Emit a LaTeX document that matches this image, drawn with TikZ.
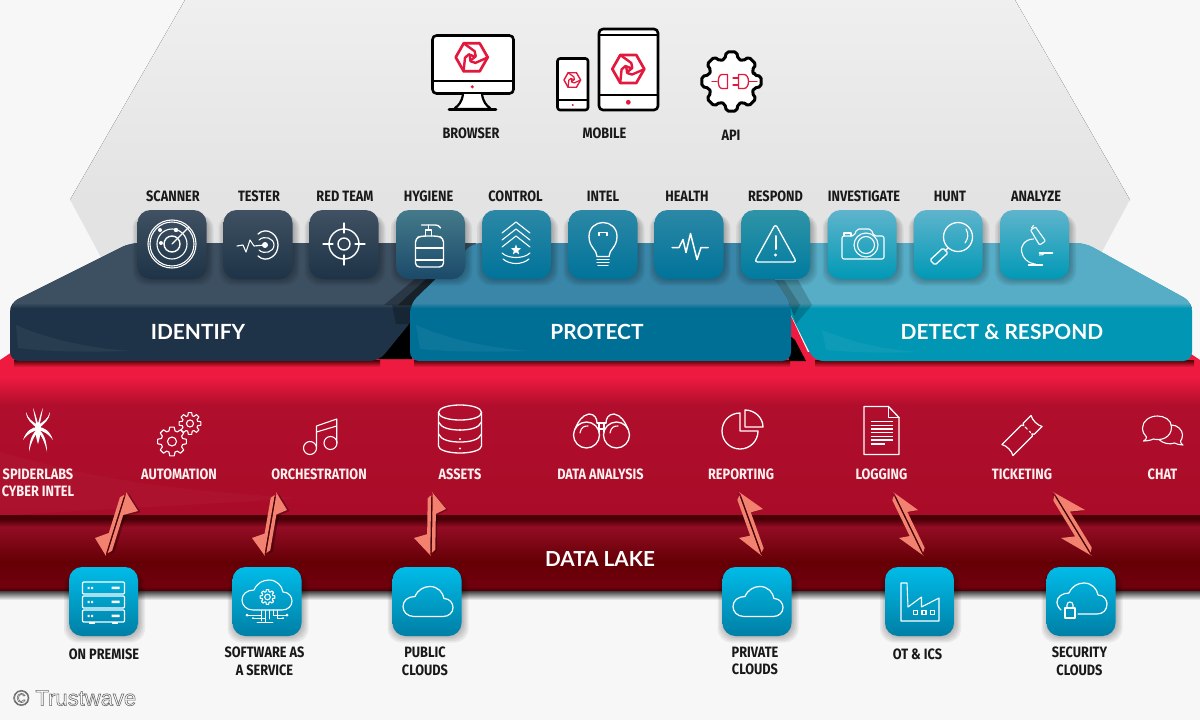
\documentclass[tikz,border=0pt]{standalone}
\usepackage{fontspec}
\usetikzlibrary{calc,shapes.geometric}
\setmainfont{Liberation Sans}
\newfontfamily\labfont[FakeStretch=0.85]{Fira Sans}
\newfontfamily\secfont{Lato}
\definecolor{bgc}{HTML}{F7F7F7}
\definecolor{logored}{HTML}{E3183D}
\definecolor{salmon}{HTML}{F2826F}
\definecolor{hexa}{HTML}{EFEFEF}
\definecolor{hexb}{HTML}{E3E3E3}
\definecolor{redtop}{HTML}{EE1A40}
\definecolor{redmid}{HTML}{B00E2C}
\definecolor{redlow}{HTML}{A90C28}
\definecolor{lakea}{HTML}{930C24}
\definecolor{lakeb}{HTML}{640005}
\definecolor{lakec}{HTML}{72000E}
\definecolor{lakedark}{HTML}{4A0006}
\definecolor{idtop}{HTML}{3D5062}
\definecolor{idfront}{HTML}{1E3347}
\definecolor{prtop}{HTML}{3A86A8}
\definecolor{prfront}{HTML}{006F96}
\definecolor{detop}{HTML}{57ADC6}
\definecolor{defront}{HTML}{0096B4}
\definecolor{taid}{HTML}{3F5162}
\definecolor{tbid}{HTML}{1E3347}
\definecolor{tahy}{HTML}{447A8A}
\definecolor{tbhy}{HTML}{1B4A6A}
\definecolor{tapr}{HTML}{2C88A6}
\definecolor{tbpr}{HTML}{00739A}
\definecolor{tare}{HTML}{2F94A6}
\definecolor{tbre}{HTML}{007BA0}
\definecolor{tade}{HTML}{5FB4CC}
\definecolor{tbde}{HTML}{0099B6}
\definecolor{tasr}{HTML}{00BCE8}
\definecolor{tmsr}{HTML}{009EC4}
\definecolor{tbsr}{HTML}{007FA6}
\tikzset{
  ic/.style={draw=white,line width=1.1pt,line join=round,line cap=round},
  labk/.style={text=black!90,font=\labfont\bfseries\fontsize{15}{17}\selectfont,align=center,inner sep=0pt},
  labw/.style={text=white!94!red,font=\labfont\bfseries\fontsize{15}{17}\selectfont,align=center,inner sep=0pt},
  sect/.style={text=white,font=\secfont\bfseries\fontsize{20.9}{24}\selectfont,inner sep=0pt},
  tilebox/.style={rounded corners=13pt,minimum size=69pt,inner sep=0pt},
  blk/.style={draw=black,line width=2.6pt,line join=round,fill=white},
  redl/.style={draw=logored,line width=1.3pt,line cap=round,line join=round},
}
% tile: name, x, y, top colour, mid colour, bottom colour
\newcommand{\tilenode}[6]{%
  \foreach \g in {0,1.5,...,6}{
    \fill[black,opacity=0.06,rounded corners=14pt] (#2-34.5-\g+1,#3-30) rectangle (#2+34.5+\g+1,#3+35+\g);
  }
  \node[tilebox,top color=#4,middle color=#5,bottom color=#6] (#1) at (#2,#3) {};
}
\newcommand{\trustlogo}[3]{%
  \begin{scope}[shift={(#1,#2)},scale=#3]
    \draw[redl,line width=#3*2.7pt] (-8,-14) -- (8,-14) -- (16,0) -- (8,14) -- (-8,14) -- (-16,0) -- cycle;
    \foreach \r in {0,120,240}{
      \draw[redl,line width=#3*2.4pt,rotate=\r] (-8,-14) -- (3,-6) -- (4,-1) -- (-1,3);
    }
  \end{scope}
}
\newcommand{\gearshape}[7]{% x y rout rin style halfangle flank
  \draw[#5,shift={(#1,#2)}] ({-#6-#7}:#4)
    \foreach \a in {0,45,...,315}{ -- ({\a-#6-#7}:#4) -- ({\a-#6}:#3) -- ({\a+#6}:#3) -- ({\a+#6+#7}:#4) } -- cycle;
}
\newcommand{\cloudshape}{(-14,15) .. controls (-21,15) and (-25,10) .. (-25,5) .. controls (-25,-1) and (-20,-5) .. (-13,-5) .. controls (-10,-12) and (-4,-15) .. (2,-15) .. controls (10,-15) and (15,-9) .. (16,-3) .. controls (22,-3) and (25,2) .. (25,6) .. controls (25,11) and (21,15) .. (15,15) -- cycle}
\newcommand{\halfarrow}[3]{%
  (#1) -- (#3) -- ($(#1)!.34!(#2)!4.2pt!90:(#2)$) -- ($(#1)!.90!(#2)!4.2pt!90:(#2)$) -- ($(#1)!.95!(#2)!.8pt!90:(#2)$) -- ($(#1)!.03!(#2)!.8pt!90:(#2)$) -- cycle
}
\newcommand{\arrowpair}[5]{% top tip, top barb, bottom tip, bottom barb, shadow shift
  \fill[black,opacity=.3,transform canvas={xshift=#5pt,yshift=-1pt}] \halfarrow{#1}{#3}{#2};
  \draw[black!75!red,line width=1.5pt] ($(#1)!.08!(#3)$) -- ($(#1)!.92!(#3)$);
  \fill[salmon] \halfarrow{#1}{#3}{#2};
  \fill[salmon] \halfarrow{#3}{#1}{#4};
}
% block: silhouette path, top colour, front colour
\newcommand{\blockshape}[3]{%
  \fill[#3,rounded corners=9pt] #1;
  \begin{scope}
    \clip[rounded corners=9pt] #1;
    \fill[#2] (0,230) rectangle (1200,303);
    \fill[top color=#2,bottom color=#3] (0,303) rectangle (1200,308);
  \end{scope}
}
\begin{document}
\begin{tikzpicture}[x=1pt,y=-1pt]
\useasboundingbox (0,0) rectangle (1200,720);
\fill[bgc] (0,0) rectangle (1200,720);
% grey hexagon
\fill[top color=hexa,bottom color=hexb] (185,0) -- (1015,0) -- (1130,200) -- (70,200) -- cycle;
\fill[hexb] (70,199.5) -- (1130,199.5) -- (1060,330) -- (140,330) -- cycle;
% red slab
\fill[redtop] (0,360) -- (12,352) -- (1188,352) -- (1200,360) -- (1200,378) -- (0,378) -- cycle;
\fill[top color=redtop,bottom color=redmid] (0,377) rectangle (1200,405);
\fill[top color=redmid,bottom color=redlow] (0,405) rectangle (1200,516);
% faint swoosh
\fill[white,opacity=.025] (0,452) .. controls (100,480) and (170,490) .. (300,498) .. controls (200,505) and (80,510) .. (0,516) -- cycle;
% data lake
\fill[lakedark] (0,515) rectangle (1200,521);
\fill[top color=lakedark,bottom color=lakea] (0,519) rectangle (1200,527);
\fill[top color=lakea,bottom color=lakeb] (0,527) rectangle (1200,562);
\fill[top color=lakeb,bottom color=lakec] (0,562) rectangle (1200,586);
\fill[top color=lakec,bottom color=lakedark] (0,586) rectangle (1200,591);
\fill[top color=black!75,bottom color=bgc] (0,591) rectangle (1200,600);
% shadows under blocks
\fill[top color=black!70!red,bottom color=redtop] (14,360) rectangle (380,367);
\fill[top color=black!70!red,bottom color=redtop] (414,360) rectangle (790,367);
\fill[top color=black!70!red,bottom color=redtop] (815,360) rectangle (1194,367);
% IDENTIFY block
\fill[black] (378,359) -- (412,316) -- (412,359) -- cycle;
\blockshape{(10,361) -- (10,303) -- (130,243) -- (482,243) -- (414,308) -- (414,318) -- (379,361) -- cycle}{idtop}{idfront}
\fill[white,opacity=.05] (16,325) .. controls (50,340) and (90,348) .. (130,351) .. controls (90,352) and (50,352) .. (18,348) -- cycle;
\fill[black,opacity=.3] (384,305) -- (428,268) -- (450,268) -- (412,305) -- cycle;
\fill[black,opacity=.4] (398,305) -- (438,268) -- (450,268) -- (412,305) -- cycle;
\fill[black,opacity=.25] (392,305) -- (412,305) -- (412,324) -- (396,324) -- cycle;
% DETECT block
\fill[redtop] (789,312) -- (812,361) -- (789,361) -- cycle;
\fill[black] (795,340) -- (806,361) -- (789,361) -- (789,335) -- cycle;
\blockshape{(755,243) -- (1085,243) -- (1192,302) -- (1192,361) -- (814,361) -- cycle}{detop}{defront}
\fill[white,opacity=.05] (822,330) .. controls (860,345) and (890,350) .. (920,352) .. controls (890,353) and (860,353) .. (826,350) -- cycle;
\fill[black,opacity=.18] (772,280) -- (798,280) -- (812,305) -- (796,324) -- (790,305) -- cycle;
\fill[black,opacity=.18] (772,280) -- (784,280) -- (800,305) -- (794,316) -- (790,305) -- cycle;
% PROTECT block
\blockshape{(410,361) -- (410,304) -- (473,243) -- (750,243) -- (791,304) -- (791,361) -- cycle}{prtop}{prfront}
\fill[white,opacity=.05] (416,325) .. controls (450,340) and (490,348) .. (530,351) .. controls (490,352) and (450,352) .. (420,349) -- cycle;
\node[sect] (identify) at (198,332) {IDENTIFY};
\node[sect] (protect) at (597,332) {PROTECT};
\node[sect] (detect) at (1002,332) {DETECT \& RESPOND};

% upper tiles
\tilenode{t1}{172}{244.5}{taid}{tbid}{tbid}
\tilenode{t2}{258}{244.5}{taid}{tbid}{tbid}
\tilenode{t3}{344}{244.5}{taid}{tbid}{tbid}
\tilenode{t4}{430.5}{244.5}{tahy}{tbhy}{tbhy}
\tilenode{t5}{516.5}{244.5}{tapr}{tbpr}{tbpr}
\tilenode{t6}{603}{244.5}{tapr}{tbpr}{tbpr}
\tilenode{t7}{689}{244.5}{tapr}{tbpr}{tbpr}
\tilenode{t8}{775.5}{244.5}{tare}{tbre}{tbre}
\tilenode{t9}{862}{244.5}{tade}{tbde}{tbde}
\tilenode{t10}{948}{244.5}{tade}{tbde}{tbde}
\tilenode{t11}{1034.5}{244.5}{tade}{tbde}{tbde}
% upper labels
\node[labk] (l1) at (173,196.5) {SCANNER};
\node[labk] (l2) at (259,196.5) {TESTER};
\node[labk] (l3) at (345,196.5) {RED TEAM};
\node[labk] (l4) at (428.5,196.5) {HYGIENE};
\node[labk] (l5) at (515.5,196.5) {CONTROL};
\node[labk] (l6) at (603,196.5) {INTEL};
\node[labk] (l7) at (687,196.5) {HEALTH};
\node[labk] (l8) at (775.5,196.5) {RESPOND};
\node[labk] (l9) at (864,196.5) {INVESTIGATE};
\node[labk] (l10) at (950,196.5) {HUNT};
\node[labk] (l11) at (1036,196.5) {ANALYZE};

% scanner
\begin{scope}[shift={(172,244)}]
  \draw[ic] (0,0) circle[radius=24];
  \draw[ic] (0,0) circle[radius=22];
  \draw[ic] (0,0) circle[radius=15];
  \draw[ic,line width=1.4pt] (0,0) circle[radius=8];
  \draw[ic] (0,0) -- (17,-17);
  \fill[white] (-12,-14) circle[radius=2] (4,-14) circle[radius=2.2] (-11,-1) circle[radius=2];
\end{scope}
% tester
\begin{scope}[shift={(258,245)}]
  \draw[ic] (-21,1) -- (-15,0) -- (-12,7) -- (-8,-5) -- (-4,1) -- (7,0);
  \draw[ic,line width=1.3pt] (0,-11) .. controls (4,-15) and (10,-15) .. (14,-12) .. controls (22,-7) and (22,7) .. (14,12) .. controls (10,15) and (4,15) .. (0,11);
  \draw[ic] (1,-5) .. controls (6,-10) and (16,-7) .. (16,0) .. controls (16,7) and (6,10) .. (1,5);
  \fill[white] (7,0) circle[radius=3];
\end{scope}
% red team
\begin{scope}[shift={(344,244)}]
  \draw[ic,line width=1.4pt] (0,0) circle[radius=15];
  \draw[ic,line width=1.4pt] (0,0) circle[radius=6];
  \foreach \a in {0,90,180,270}{\draw[ic] (\a:11) -- (\a:21);}
\end{scope}
% hygiene
\begin{scope}[shift={(430.5,245)}]
  \draw[ic,line width=1.4pt,rounded corners=4pt] (-15,-7) -- (-9,-9) -- (7,-9) -- (13,-7) -- (13,22) -- (-15,22) -- cycle;
  \draw[ic] (-15,3) -- (13,3) (-15,15) -- (13,15);
  \draw[ic] (-5,-9) -- (-5,-15) -- (1,-15) -- (1,-9);
  \draw[ic] (-2,-15) -- (-2,-20);
  \draw[ic,line width=1.4pt] (-9,-20) -- (5,-20) .. controls (7,-20) and (9,-19) .. (10,-17);
\end{scope}
% control
\begin{scope}[shift={(516,245)}]
  \foreach \d in {0,7,14}{\draw[ic] (-14,-12+\d) -- (0,-23+\d) -- (14,-12+\d);}
  \node[star,star points=5,star point ratio=2.4,fill=white,inner sep=0pt,minimum size=11pt] (cstar) at (0,5) {};
  \draw[ic] (-14,8) .. controls (-8,14) and (8,14) .. (14,8);
  \draw[ic] (-13,14) .. controls (-6,20) and (6,20) .. (13,14);
\end{scope}
% intel
\begin{scope}[shift={(603,244.5)}]
  \draw[ic,line width=1.3pt] (-6,12) .. controls (-6,5) and (-14,3) .. (-14,-8) .. controls (-14,-17) and (-7,-22) .. (0,-22) .. controls (7,-22) and (14,-17) .. (14,-8) .. controls (14,3) and (6,5) .. (6,12) -- cycle;
  \draw[ic] (-4,-9) -- (-4,-12) -- (4,-12) -- (4,-9);
  \draw[ic] (-6,15) -- (6,15) (-6,18) -- (6,18) (-5,21) -- (5,21);
\end{scope}
% health
\begin{scope}[shift={(689,244.5)}]
  \draw[ic,line width=1.5pt] (-17,3) -- (-10,3) -- (-6,-5) -- (-3,8) -- (1.5,-11) -- (8,15) -- (12,3) -- (19,3);
\end{scope}
% respond
\begin{scope}[shift={(775.5,245)}]
  \draw[ic,rounded corners=3pt,line width=1.3pt] (0,-21) -- (21,17) -- (-21,17) -- cycle;
  \draw[ic,line width=2pt] (0,-9) -- (0,4);
  \fill[white] (0,10) circle[radius=1.6];
\end{scope}
% investigate
\begin{scope}[shift={(863,245)}]
  \draw[ic,rounded corners=2pt] (-21,-9) -- (-21,14) -- (21,14) -- (21,-9) -- (11,-9) -- (8,-16) -- (-6,-16) -- (-9,-9) -- cycle;
  \draw[ic] (-19,-9) -- (-19,-12) -- (-12,-12) -- (-12,-9);
  \draw[ic] (3,0) circle[radius=12];
  \draw[ic] (3,0) circle[radius=8.5];
\end{scope}
% hunt
\begin{scope}[shift={(948,245)}]
  \draw[ic,line width=1.3pt] (10,-8) circle[radius=14.5];
  \draw[ic] (18,-16) .. controls (21,-11) and (20,-6) .. (17,-2);
  \draw[ic,line width=1.3pt] (0,3) -- (-3,6);
  \draw[ic,rounded corners=1.5pt,line width=1.3pt] (-5,3) -- (0,8) -- (-13,20) -- (-18,15) -- cycle;
\end{scope}
% analyze
\begin{scope}[shift={(1034.5,245)}]
  \draw[ic,rounded corners=1pt] (-4,-15) -- (1,-18) -- (11,-4) -- (5,0) -- cycle;
  \draw[ic] (-3,-17) -- (-1,-19.5);
  \draw[ic] (-1,-6) .. controls (-10,-6) and (-14,2) .. (-13,6) .. controls (-12,13) and (-7,18) .. (0,19);
  \draw[ic,line width=1.6pt] (5,8) -- (18,8);
  \draw[ic] (-6,20) -- (8,20) (1,19) -- (1,20);
  \draw[ic] (10,8) .. controls (9,10) and (7,10) .. (5,10);
\end{scope}

% red section labels and icons
\node[labw] (r0) at (38,482.5) {SPIDERLABS\\[0.4pt]CYBER INTEL};
\node[labw] (r1) at (179,474) {AUTOMATION};
\node[labw] (r2) at (319,474) {ORCHESTRATION};
\node[labw] (r3) at (460,474) {ASSETS};
\node[labw] (r4) at (600.5,474) {DATA ANALYSIS};
\node[labw] (r5) at (741,474) {REPORTING};
\node[labw] (r6) at (881.5,474) {LOGGING};
\node[labw] (r7) at (1022,474) {TICKETING};
\node[labw] (r8) at (1162.5,474) {CHAT};
% spider
\begin{scope}[shift={(38,430)}]
  \fill[white] (0,-8) .. controls (3.5,-6) and (3,5) .. (0,14) .. controls (-3,5) and (-3.5,-6) .. (0,-8) -- cycle;
  \fill[white] (0,-3) circle[radius=3];
  \foreach \s in {-1,1}{
    \fill[white] (0,-6) .. controls (\s*1,-10) and (\s*2,-15) .. (\s*5,-22) .. controls (\s*3.5,-14) and (\s*2.5,-9) .. (\s*1,-3) -- cycle;
    \fill[white] (0,-5) .. controls (\s*5,-8) and (\s*10,-11) .. (\s*12,-18) .. controls (\s*11.5,-10) and (\s*6,-6) .. (\s*1,-2) -- cycle;
    \fill[white] (0,-3) .. controls (\s*6,-3) and (\s*12,1) .. (\s*15,10) .. controls (\s*10,3.5) and (\s*6,1.5) .. (0,0) -- cycle;
    \fill[white] (0,-1) .. controls (\s*5,2) and (\s*9,10) .. (\s*9,22) .. controls (\s*7,12) and (\s*3,5) .. (0,2) -- cycle;
  }
\end{scope}
% gears
\gearshape{172}{441.5}{14.5}{11}{ic}{9}{7}
\draw[ic] (172,441.5) circle[radius=4.5];
\gearshape{190}{423.5}{11}{8}{ic}{9}{7}
\draw[ic] (190,423.5) circle[radius=3.5];
% music
\begin{scope}[shift={(320,437)}]
  \draw[ic] (-10,11) circle[radius=6.5];
  \draw[ic] (10.5,6) circle[radius=6.5];
  \draw[ic] (-3.5,10) -- (-3.5,-11) -- (16.7,-18) -- (16.7,6);
  \draw[ic] (-3.5,-5) -- (16.7,-11);
\end{scope}
% database
\begin{scope}[shift={(460,429)}]
  \draw[ic,line width=1.3pt] (0,-24) .. controls (12,-24) and (21.5,-21) .. (21.5,-16.5) .. controls (21.5,-12) and (12,-9) .. (0,-9) .. controls (-12,-9) and (-21.5,-12) .. (-21.5,-16.5) .. controls (-21.5,-21) and (-12,-24) .. (0,-24) -- cycle;
  \draw[ic,line width=1.3pt] (-21.5,-16.5) -- (-21.5,17) .. controls (-21.5,21) and (-12,24) .. (0,24) .. controls (12,24) and (21.5,21) .. (21.5,17) -- (21.5,-16.5);
  \foreach \d in {-6,6}{
    \draw[ic,line width=1.3pt] (-21.5,\d-1) .. controls (-19,\d+5) and (-10,\d+7) .. (0,\d+7) .. controls (10,\d+7) and (19,\d+5) .. (21.5,\d-1);
  }
  \foreach \d in {1,10,19.5}{\fill[white] (0,\d) circle[radius=1.2];}
\end{scope}
% binoculars
\begin{scope}[shift={(601,430)}]
  \draw[ic,line width=1.3pt] (-14.5,5) circle[radius=13];
  \draw[ic,line width=1.3pt] (15.5,5) circle[radius=13];
  \draw[ic] (-21,3) .. controls (-20,-3) and (-17,-4) .. (-13,-4);
  \draw[ic] (9,3) .. controls (10,-3) and (13,-4) .. (17,-4);
  \draw[ic,line width=1.3pt] (-26,-1) .. controls (-23,-8) and (-19,-15) .. (-12,-16) .. controls (-6,-16) and (-4,-11) .. (-4,-7);
  \draw[ic,line width=1.3pt] (27,-1) .. controls (24,-8) and (20,-15) .. (13,-16) .. controls (7,-16) and (5,-11) .. (5,-7);
  \draw[ic] (-4,-7) -- (5,-7) (-2,-7) -- (-2,2) (3,-7) -- (3,2) (-2,-1) -- (3,-1);
\end{scope}
% pie
\begin{scope}[shift={(740,431)}]
  \draw[ic,line width=1.3pt] (0,-18) .. controls (-10,-18) and (-18,-10) .. (-18,0) .. controls (-18,10) and (-10,18) .. (0,18) .. controls (10,18) and (18,10) .. (18,0) -- (0,0) -- cycle;
  \draw[ic,line width=1.3pt] (5,-21) .. controls (15,-21) and (23,-13) .. (23,-4) -- (5,-4) -- cycle;
\end{scope}
% document
\begin{scope}[shift={(881.5,430.5)}]
  \draw[ic,line width=1.3pt] (-17.5,-24) -- (7,-24) -- (17.5,-13) -- (17.5,24) -- (-17.5,24) -- cycle;
  \draw[ic] (7,-24) -- (7,-13) -- (17.5,-13);
  \foreach \d in {-9,-5.3,-1.6,2.1,5.8,9.5}{\draw[ic,line width=1.3pt,line cap=butt] (-11,\d) -- (11,\d);}
  \draw[ic,line width=1.3pt,line cap=butt] (-11,13.5) -- (3,13.5);
\end{scope}
% ticket
\begin{scope}[shift={(1022,435.5)},rotate=45,scale=.86]
  \draw[ic,line width=1.2pt] (-24,-9) -- (8,-9) .. controls (8,-6) and (11,-6) .. (11,-9) -- (24,-9) .. controls (21,-5) and (21,5) .. (24,9) -- (11,9) .. controls (11,6) and (8,6) .. (8,9) -- (-24,9) .. controls (-21,5) and (-21,-5) .. (-24,-9) -- cycle;
  \draw[ic,dashed] (9.5,-4.5) -- (9.5,4.5);
\end{scope}
% chat
\begin{scope}[shift={(1162.5,431)}]
  \draw[ic] (9,-4) .. controls (9,-11) and (2,-15) .. (-5,-15) .. controls (-13,-15) and (-20,-10) .. (-20,-3) .. controls (-20,1) and (-18,4) .. (-16,6) .. controls (-16,8) and (-17,9) .. (-19,10) .. controls (-15,10) and (-11,9) .. (-9,8) .. controls (-2,10) and (9,7) .. (9,-4) -- cycle;
  \draw[ic] (9,-6) .. controls (15,-6) and (20,-1) .. (20,4) .. controls (20,7) and (19,9) .. (18,10) .. controls (18,12) and (19,13) .. (20.5,14) .. controls (17,14) and (14,13) .. (12,12) .. controls (7,14) and (0,12) .. (-3,9);
\end{scope}

% bottom source tiles
\tilenode{s1}{103.5}{601.5}{tasr}{tmsr}{tbsr}
\tilenode{s2}{267}{601.5}{tasr}{tmsr}{tbsr}
\tilenode{s3}{427}{601.5}{tasr}{tmsr}{tbsr}
\tilenode{s4}{757}{601.5}{tasr}{tmsr}{tbsr}
\tilenode{s5}{919.5}{601.5}{tasr}{tmsr}{tbsr}
\tilenode{s6}{1081}{601.5}{tasr}{tmsr}{tbsr}
\node[labk] (b1) at (104,654) {ON PREMISE};
\node[labk,anchor=north] (b2) at (264.5,647) {SOFTWARE AS\\[0.2pt]A SERVICE};
\node[labk,anchor=north] (b3) at (425,647) {PUBLIC\\[0.2pt]CLOUDS};
\node[labk,anchor=north] (b4) at (755,647) {PRIVATE\\[0.2pt]CLOUDS};
\node[labk] (b5) at (917.5,654) {OT \& ICS};
\node[labk,anchor=north] (b6) at (1079.5,647) {SECURITY\\[0.2pt]CLOUDS};
% server
\begin{scope}[shift={(103.5,602)}]
  \foreach \d in {-20,-6,8}{
    \draw[ic,rounded corners=1pt] (-21,\d) rectangle (21,\d+12);
    \fill[white] (-16,\d+4.8) rectangle (-14,\d+7) (-12.5,\d+4.8) rectangle (-10.5,\d+7) (8,\d+4.5) rectangle (16,\d+7.2);
  }
  \draw[ic] (-14,21) -- (-9,21) (9,21) -- (14,21);
\end{scope}
% saas
\begin{scope}[shift={(267,595)}]
  \draw[ic] \cloudshape;
\end{scope}
\gearshape{267.5}{597}{7.5}{5.5}{ic}{9}{7}
\draw[ic] (267.5,597) circle[radius=2.8];
\begin{scope}[shift={(267,615)},line width=.9pt]
  \draw[ic,line width=.9pt] (-19,0) -- (-6,0) (-6,-5) -- (-6,6) (-14,3) -- (-2,3) (-2,-5) -- (-2,7) (2,-5) -- (2,4) (6,-5) -- (6,0) -- (19,0) (10,-5) -- (10,3) -- (16,3) (-10,7) -- (6,7);
  \fill[white] (-20,0) circle[radius=1.5] (20,0) circle[radius=1.5] (-14,3) circle[radius=1] (16,3) circle[radius=1];
\end{scope}
% clouds
\begin{scope}[shift={(428,601.5)}]
  \draw[ic,line width=1.2pt] \cloudshape;
\end{scope}
\begin{scope}[shift={(758,601.5)}]
  \draw[ic,line width=1.2pt] \cloudshape;
\end{scope}
% factory
\begin{scope}[shift={(919.5,601.5)}]
  \draw[ic] (-11.5,5.5) -- (2,-4.5) -- (2,5.5) -- (19.5,-3.5) -- (19.5,19.5) -- (-18.5,19.5) -- (-18.5,-18.5) -- (-12.5,-18.5) -- cycle;
  \foreach \d in {-4,4.5,12.8}{\draw[ic] (\d-2,9) rectangle (\d+2,13);}
\end{scope}
% security cloud
\begin{scope}[shift={(1082,599)}]
  \draw[ic,line width=1.2pt] (-21,11) .. controls (-25,8) and (-25,3) .. (-25,3) .. controls (-25,-2) and (-20,-6) .. (-13,-6) .. controls (-10,-13) and (-4,-16) .. (2,-16) .. controls (10,-16) and (15,-10) .. (16,-4) .. controls (22,-4) and (25,1) .. (25,5) .. controls (25,11) and (21,15) .. (15,15) -- (-4,15);
  \draw[ic] (-17,9) rectangle (-7,19);
  \draw[ic] (-15,9) -- (-15,6) .. controls (-15,2) and (-9,2) .. (-9,6) -- (-9,9);
\end{scope}

% arrows
\coordinate (a1) at (126,492); \coordinate (a1b) at (138,511); \coordinate (b1) at (106,556); \coordinate (b1b) at (95,538);
\coordinate (a2) at (276,492); \coordinate (a2b) at (287,510); \coordinate (b2) at (265,556); \coordinate (b2b) at (252,538);
\coordinate (a3) at (432,492); \coordinate (a3b) at (446,509); \coordinate (b3) at (431,556); \coordinate (b3b) at (414,538);
\coordinate (a4) at (739,492); \coordinate (a4b) at (763,509); \coordinate (b4) at (762,556); \coordinate (b4b) at (739,538);
\coordinate (a5) at (893,492); \coordinate (a5b) at (918,510); \coordinate (b5) at (924,556); \coordinate (b5b) at (899,538);
\coordinate (a6) at (1053,492); \coordinate (a6b) at (1085,510); \coordinate (b6) at (1092,556); \coordinate (b6b) at (1061,538);
\arrowpair{a1}{a1b}{b1}{b1b}{2.5}
\arrowpair{a2}{a2b}{b2}{b2b}{2.5}
\arrowpair{a3}{a3b}{b3}{b3b}{1.5}
\arrowpair{a4}{a4b}{b4}{b4b}{-2}
\arrowpair{a5}{a5b}{b5}{b5b}{-2}
\arrowpair{a6}{a6b}{b6}{b6b}{-2}

% devices
\draw[blk,rounded corners=4pt] (432.5,35.5) rectangle (513.5,93.5);
\draw[draw=black,line width=2.2pt] (432.5,81) -- (513.5,81);
\fill[logored] (472.3,86.8) circle[radius=1.7];
\draw[blk,line width=2.2pt,rounded corners=3pt] (463,94) .. controls (462,102) and (458,106) .. (453,109) -- (492,109) .. controls (487,106) and (483,102) .. (482,94);
\draw[black,line width=2.6pt,line cap=round] (449,109.3) -- (496,109.3);
\trustlogo{471.7}{57.3}{1}
\draw[blk,rounded corners=2.5pt] (557.5,58.5) rectangle (588,110);
\draw[draw=black,line width=2pt] (557.5,100) -- (588,100);
\fill[logored] (572.7,105) circle[radius=1.1];
\trustlogo{572.3}{80}{.52}
\draw[blk,rounded corners=4pt] (599,29) rectangle (658,110);
\draw[draw=black,line width=2pt] (599,35) -- (658,35) (599,95) -- (658,95);
\fill[logored] (628.3,102.3) circle[radius=2.4];
\trustlogo{628.3}{69}{1}
% api gear
\gearshape{731.5}{81.5}{30}{23.5}{blk,line width=3pt,rounded corners=2pt}{10}{6}
\draw[redl] (712,81.5) -- (717,81.5);
\draw[redl] (727.5,74.5) -- (722,74.5) .. controls (717,74.5) and (717,88.5) .. (722,88.5) -- (727.5,88.5) -- cycle;
\draw[redl] (738.5,74.5) -- (744,74.5) .. controls (750,74.5) and (750,88.5) .. (744,88.5) -- (738.5,88.5) -- cycle;
\draw[redl] (733,78) -- (738.5,78) (733,85) -- (738.5,85) (749,81.5) -- (757,81.5);
\node[labk] (d1) at (471,133.5) {BROWSER};
\node[labk] (d2) at (604.5,133.5) {MOBILE};
\node[labk] (d3) at (731,135) {API};
% data lake and copyright
\node[sect,font=\secfont\bfseries\fontsize{20.7}{24}\selectfont] (lake) at (600,559.5) {DATA LAKE};
\node[text=white,anchor=west,inner sep=0pt,font=\fontsize{22}{24}\selectfont] (copy) at (13,698) {\special{pdf:code q 2 Tr 0.42 0.42 0.42 RG 0.6 w}© Trustwave\special{pdf:code Q}};
\end{tikzpicture}
\end{document}
